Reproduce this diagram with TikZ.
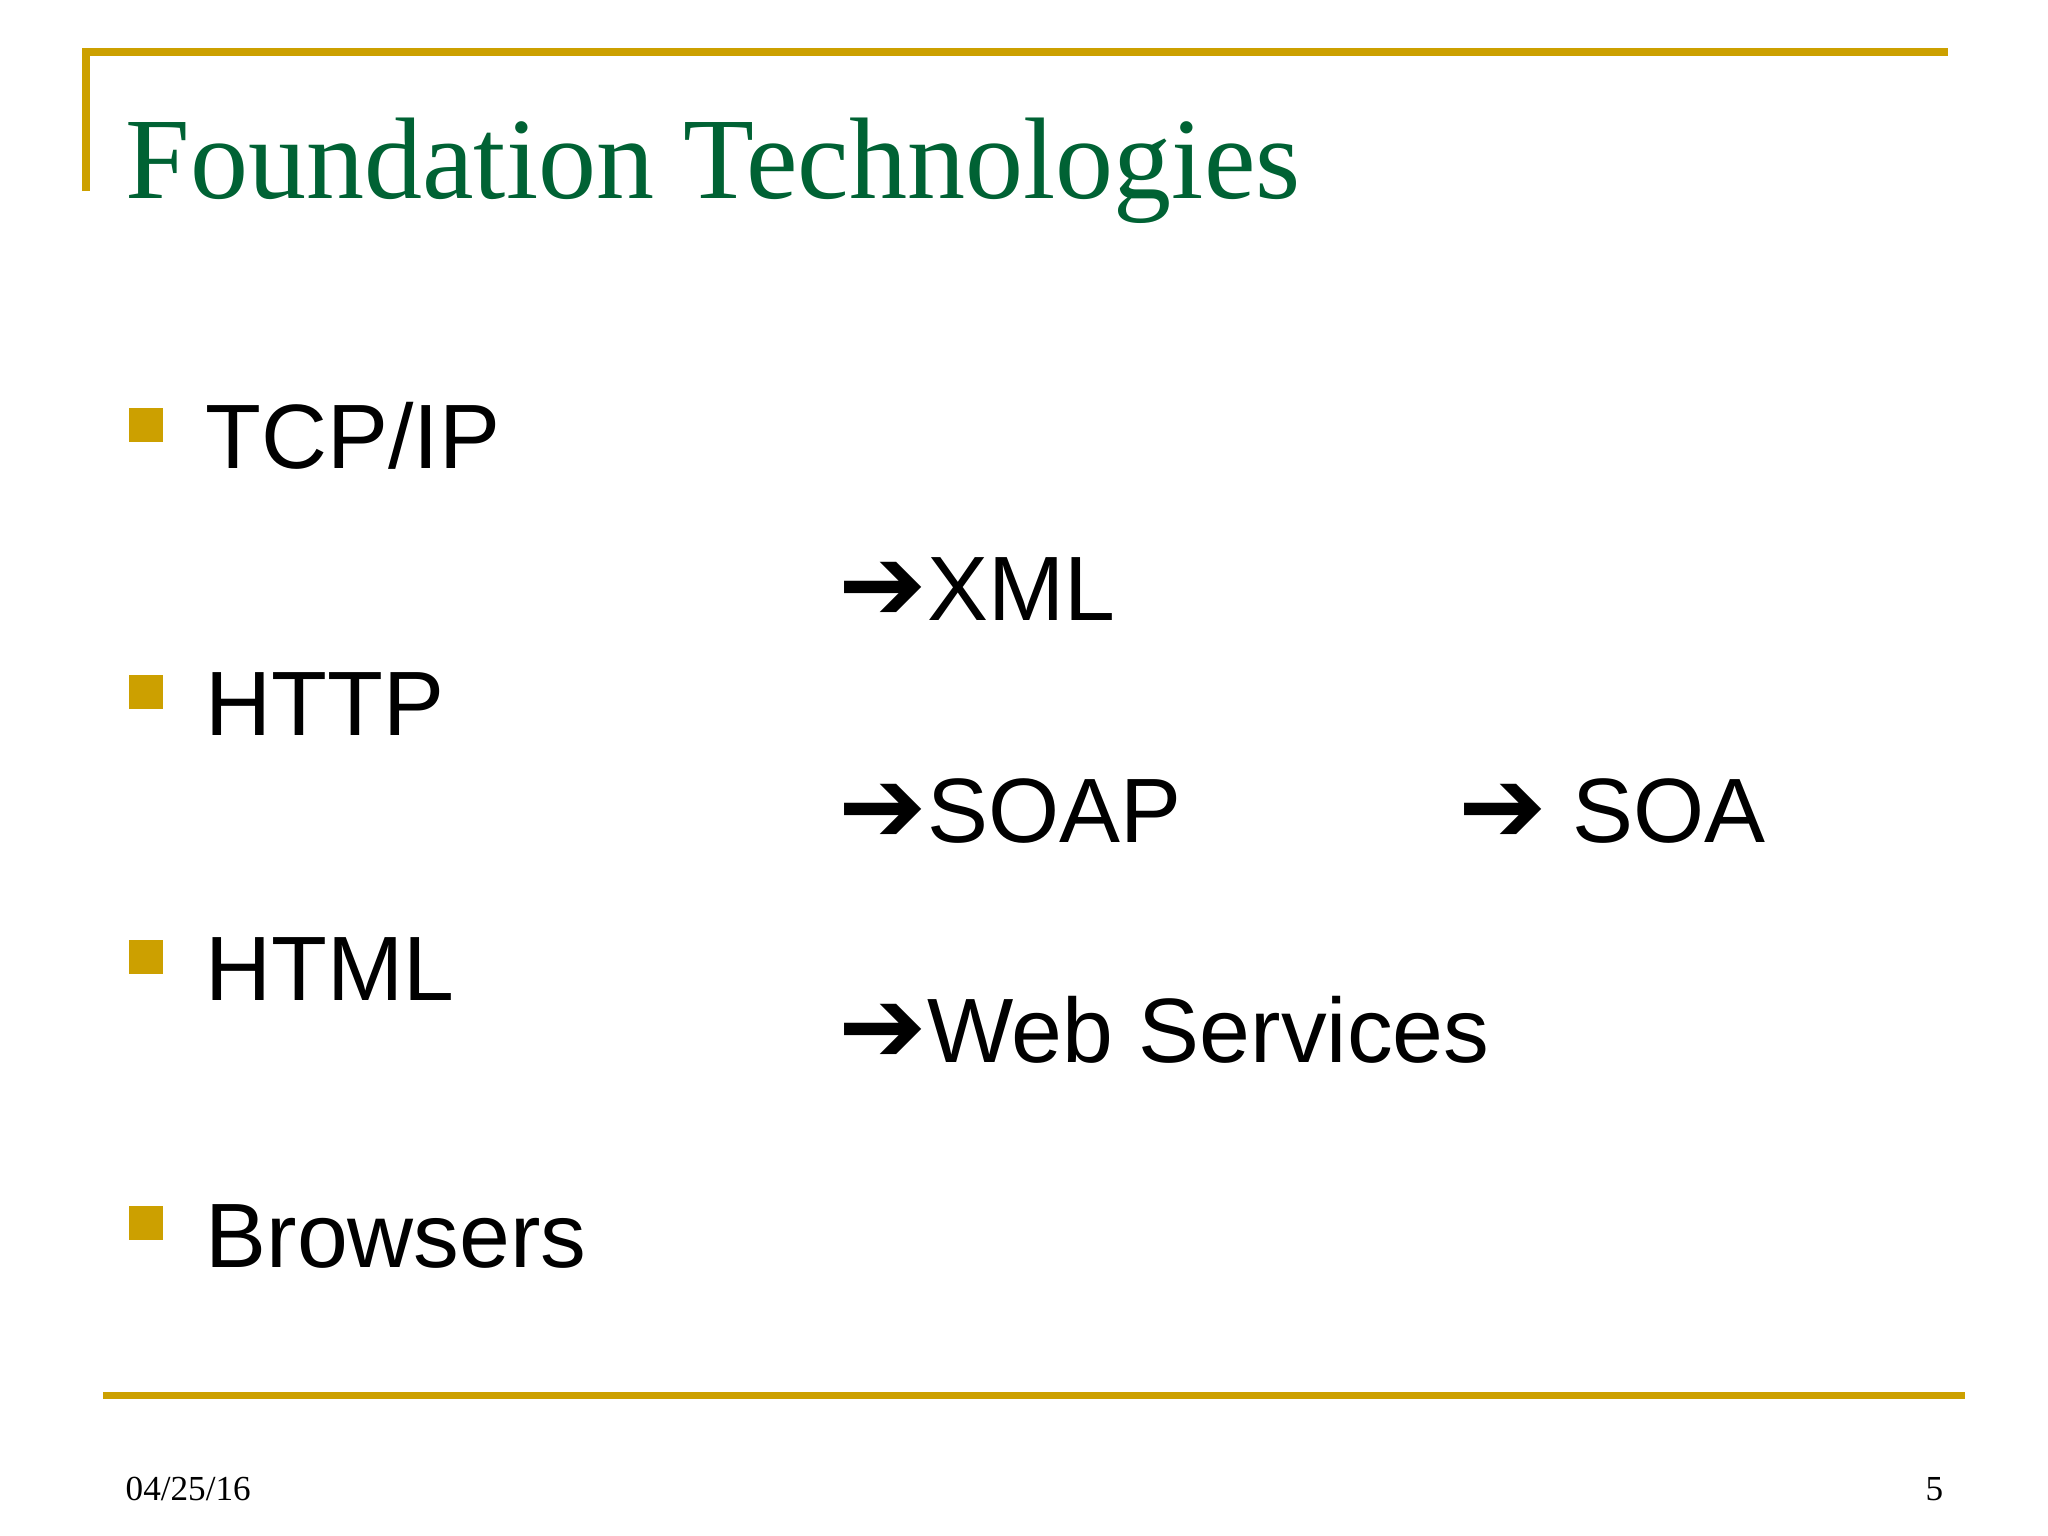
\documentclass[tikz,border=0pt]{standalone}
\usepackage{fontspec}
\setmainfont{Liberation Serif}
\setsansfont{Liberation Sans}
\newfontfamily\djv{DejaVu Sans}
\definecolor{gold}{RGB}{204,160,0}
\definecolor{tgreen}{RGB}{0,98,52}
\newcommand{\arr}{{\djv\bfseries\fontsize{30}{30}\selectfont ➔}}
\begin{document}
\begin{tikzpicture}[x=0.01cm,y=-0.01cm,
  item/.style={anchor=base west,inner sep=0,font=\sffamily\fontsize{26}{30}\selectfont},
  bul/.style={fill=gold,minimum size=0.34cm,inner sep=0},
  foot/.style={inner sep=0,font=\fontsize{10}{12}\selectfont}]
\useasboundingbox (0,0) rectangle (2048,1536);
\fill[white] (0,0) rectangle (2048,1536);
\coordinate (tl) at (86,52); \coordinate (tr) at (1948,52); \coordinate (td) at (86,191);
\draw[gold,line width=2pt] (td) -- (tl) -- (tr);
\coordinate (bl) at (103,1395); \coordinate (br) at (1965,1395);
\draw[gold,line width=2pt] (bl) -- (br);
\node[anchor=base west,inner sep=0,text=tgreen,font=\fontsize{33}{40}\selectfont] (title) at (125,198) {Foundation Technologies};
\node[bul] (b1) at (146,425) {}; \node[item] (t1) at (205,468) {TCP/IP};
\node[bul] (b2) at (146,692) {}; \node[item] (t2) at (205,735) {HTTP};
\node[bul] (b3) at (146,957) {}; \node[item] (t3) at (205,1000) {HTML};
\node[bul] (b4) at (146,1223) {}; \node[item] (t4) at (205,1267) {Browsers};
\node[item] (x) at (838,620) {\arr XML};
\node[item] (s) at (838,842) {\arr SOAP};
\node[item] (w) at (838,1062) {\arr Web Services};
\node[item] (sa) at (1458,842) {\arr\ SOA};
\node[foot,anchor=base west] (d) at (125,1500) {04/25/16};
\node[foot,anchor=base east] (p) at (1944,1500) {5};
\end{tikzpicture}
\end{document}
